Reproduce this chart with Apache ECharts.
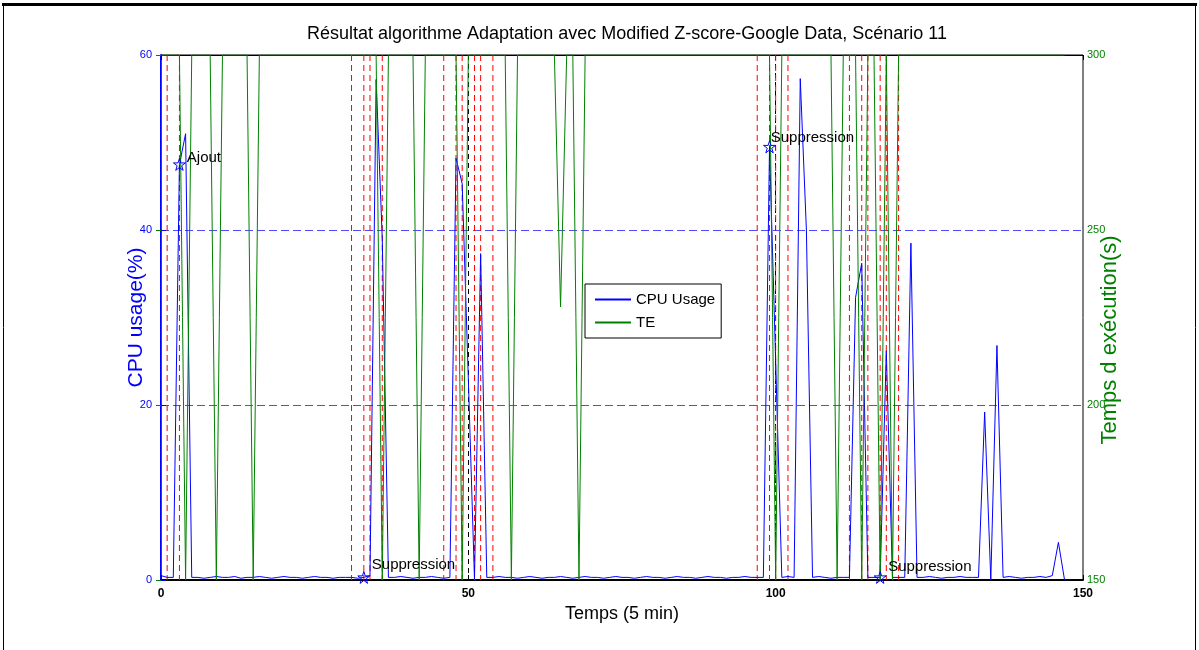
<!DOCTYPE html>
<html><head><meta charset="utf-8">
<script src="https://cdn.jsdelivr.net/npm/echarts@6/dist/echarts.min.js"></script>
<style>html,body{margin:0;padding:0;background:#fff;} #c{width:1199px;height:650px;}</style>
</head><body><div id="c"></div>
<script>
// ---- data ----
const titleText = 'Résultat algorithme Adaptation avec Modified Z-score-Google Data, Scénario 11';
const cpuUsage = [
  0.5,0.3,0.3,47.5,51,0.3,0.3,0.2,0.3,0.4,
  0.3,0.3,0.4,0.2,0.3,0.3,0.4,0.3,0.2,0.3,
  0.4,0.3,0.3,0.2,0.3,0.4,0.3,0.3,0.2,0.3,
  0.3,0.3,0.2,0.3,0.5,57.2,39,0.3,0.3,0.4,
  0.3,0.2,0.3,0.3,0.4,0.3,0.2,0.3,48.2,45.3,
  23,0.1,37.3,0.3,0.3,0.4,0.3,0.3,0.2,0.3,
  0.4,0.3,0.2,0.3,0.3,0.4,0.3,0.2,0.3,0.4,
  0.3,0.3,0.2,0.3,0.4,0.3,0.3,0.2,0.3,0.4,
  0.3,0.3,0.2,0.3,0.4,0.3,0.3,0.2,0.3,0.4,
  0.3,0.3,0.2,0.3,0.3,0.4,0.3,0.3,0.3,49.5,
  25,0.3,0.4,0.3,57.3,40,0.3,0.4,0.3,0.2,
  0.3,0.3,0.3,32.3,36.2,0.3,0.3,0.3,26.2,0.3,
  0.3,0.3,38.5,0.3,0.3,0.4,0.3,0.2,0.3,0.3,
  0.4,0.3,0.3,0.3,19.2,0.0,26.8,0.3,0.4,0.3,
  0.2,0.3,0.3,0.4,0.3,0.5,4.3,0.0
];
const teValues = [
  300,300,300,300,150,300,300,300,300,150,
  300,300,300,300,300,150,300,300,300,300,
  300,300,300,300,300,300,300,300,300,300,
  300,300,300,300,300,300,150,300,300,300,
  300,300,150,300,300,300,300,300,300,150,
  300,300,300,300,300,300,300,150,300,300,
  300,300,300,300,300,228,300,300,150,300,
  300,300,300,300,300,300,300,300,300,300,
  300,300,300,300,300,300,300,300,300,300,
  300,300,300,300,300,300,300,300,300,300,
  150,300,300,300,300,300,300,300,300,300,
  150,300,300,300,150,300,300,150,300,150,
  300,300,300,300,300,300,300,300,300,300,
  300,300,300,300,300,300,300,300,300,300,
  300,300,300,300,300,300,300,300
];
const redMarkers = [1,3,31,33,34,36,46,48,49,51,52,54,97,99,100,102,112,114,115,117,118,120];
const eventPoints = [[3,47.5],[33,0.3],[99,49.5],[117,0.3]];
const eventLabels = ['Ajout','Suppression','Suppression','Suppression'];
const labelAnchors = [[4.2,48.2],[34.3,1.7],[99.2,50.5],[118.3,1.5]];
const xRange = [0,150], xStep = 50;
const cpuRange = [0,60], cpuStep = 20;
const teRange = [150,300], teStep = 50;

// ---- chart ----
const FONT = '"Liberation Sans", Arial, sans-serif';
const BLUE = '#0000ff', GREEN = '#008000', RED = '#ff0000';
const STAR = 'path://M50,2 L61,36 L97,36 L68,57 L79,92 L50,70 L21,92 L32,57 L3,36 L39,36 Z';
const chart = echarts.init(document.getElementById('c'));
chart.setOption({
  animation: false,
  backgroundColor: '#fff',
  textStyle: {fontFamily: FONT},
  title: {text: titleText, left: 627, top: 25, textAlign: 'center', padding: 0,
    textStyle: {fontFamily: FONT, fontSize: 18, fontWeight: 'normal', color: '#000'}},
  graphic: [
    {type:'line', shape:{x1:2, y1:4.5, x2:1197, y2:4.5}, style:{stroke:'#000', lineWidth:3}},
    {type:'line', shape:{x1:3.5, y1:4, x2:3.5, y2:660}, style:{stroke:'#000', lineWidth:1}},
    {type:'line', shape:{x1:1195.5, y1:4, x2:1195.5, y2:660}, style:{stroke:'#000', lineWidth:1}},
    {type:'text', x: 1110, y: 340, rotation: Math.PI / 2,
      style:{text: 'Temps d exécution(s)', fill: GREEN, font: '22px "Liberation Sans", Arial, sans-serif',
        align: 'center', verticalAlign: 'middle'}}
  ],
  grid: {left: 161, right: 116, top: 55, bottom: 70, show: true, borderColor: '#000', borderWidth: 1, backgroundColor: '#fff'},
  legend: {
    data: ['CPU Usage','TE'], orient: 'vertical', left: 585, top: 284,
    padding: [8, 6, 8, 9], itemWidth: 36, itemHeight: 14, itemGap: 8,
    backgroundColor: '#fff', borderColor: '#000', borderWidth: 1, borderRadius: 0,
    itemStyle: {color: 'rgba(0,0,0,0)', borderWidth: 0, opacity: 0},
    textStyle: {fontFamily: FONT, fontSize: 15, color: '#000'}
  },
  xAxis: [{
    type: 'value', min: xRange[0], max: xRange[1], interval: xStep,
    name: 'Temps (5 min)', nameLocation: 'middle', nameGap: 25, nameMoveOverlap: false,
    nameTextStyle: {fontFamily: FONT, fontSize: 18, color: '#000'},
    axisLine: {show: true, lineStyle: {color: '#000', width: 2}},
    axisTick: {show: true, inside: true, length: 5, lineStyle: {color: '#000'}},
    axisLabel: {color: '#000', fontSize: 12, fontWeight: 'bold', margin: 8},
    splitLine: {show: true, showMinLine: false, showMaxLine: false, lineStyle: {color: '#000', type: [5,4], width: 1}}
  }, {
    type: 'value', position: 'top', min: xRange[0], max: xRange[1], interval: xStep,
    axisLine: {show: true, lineStyle: {color: '#000', width: 1}},
    axisTick: {show: true, inside: true, length: 5, lineStyle: {color: '#000'}},
    axisLabel: {show: false}, splitLine: {show: false}
  }],
  yAxis: [{
    type: 'value', position: 'left', min: cpuRange[0], max: cpuRange[1], interval: cpuStep,
    name: 'CPU usage(%)', nameLocation: 'middle', nameGap: 14, nameMoveOverlap: false,
    nameTextStyle: {fontFamily: FONT, fontSize: 21, color: BLUE},
    axisLine: {show: true, lineStyle: {color: BLUE, width: 2}},
    axisTick: {show: true, inside: true, length: 5, lineStyle: {color: BLUE}},
    axisLabel: {color: BLUE, fontSize: 11, margin: 9},
    splitLine: {show: true, showMinLine: false, showMaxLine: false, lineStyle: {color: '#4d4dff', type: [8,4], width: 1}}
  }, {
    type: 'value', position: 'right', min: teRange[0], max: teRange[1], interval: teStep,
    axisLine: {show: true, lineStyle: {color: GREEN, width: 1}},
    axisTick: {show: true, inside: true, length: 5, lineStyle: {color: GREEN}},
    axisLabel: {color: GREEN, fontSize: 11, margin: 4},
    splitLine: {show: false}
  }],
  series: [{
    name: 'markers', type: 'custom', xAxisIndex: 0, yAxisIndex: 0, silent: true,
    data: redMarkers.map(v => [v, cpuRange[0]]),
    encode: {x: 0, y: 1},
    renderItem: (params, api) => {
      const top = api.coord([api.value(0), cpuRange[1]]);
      const bot = api.coord([api.value(0), cpuRange[0]]);
      return {type: 'line', shape: {x1: top[0], y1: top[1], x2: bot[0], y2: bot[1]},
        style: {stroke: RED, lineWidth: 1, lineDash: [6, 4], fill: null}};
    }
  }, {
    name: 'CPU Usage', type: 'line', xAxisIndex: 0, yAxisIndex: 0,
    data: cpuUsage.map((v, i) => [i, v]),
    showSymbol: false, symbol: 'none', clip: true,
    lineStyle: {color: BLUE, width: 1}, itemStyle: {color: BLUE}
  }, {
    name: 'TE', type: 'line', xAxisIndex: 0, yAxisIndex: 1,
    data: teValues.map((v, i) => [i, v]),
    showSymbol: false, symbol: 'none', clip: true,
    lineStyle: {color: GREEN, width: 1}, itemStyle: {color: GREEN}
  }, {
    name: 'events', type: 'scatter', xAxisIndex: 0, yAxisIndex: 0,
    data: eventPoints, symbol: STAR, symbolSize: 12,
    itemStyle: {color: 'rgba(255,255,255,0)', borderColor: BLUE, borderWidth: 1, opacity: 1}, z: 5
  }, {
    name: 'labels', type: 'scatter', xAxisIndex: 0, yAxisIndex: 0,
    data: labelAnchors, symbolSize: 0, silent: true,
    itemStyle: {opacity: 1},
    label: {show: true, position: 'right', distance: 0, fontFamily: FONT, fontSize: 15, color: '#000',
      textBorderWidth: 0, formatter: p => eventLabels[p.dataIndex]}, z: 6
  }]
});
</script></body></html>
